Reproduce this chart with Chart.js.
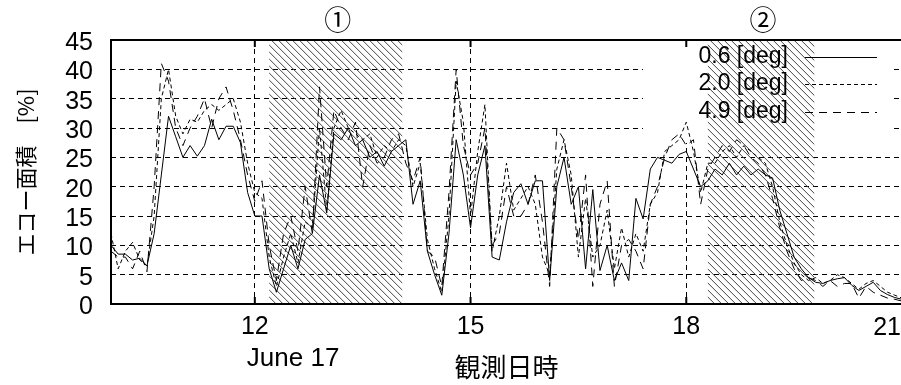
<!DOCTYPE html>
<html>
<head>
<meta charset="utf-8">
<script src="https://cdn.jsdelivr.net/npm/chart.js@4.4.0/dist/chart.umd.min.js"></script>
<style>
  html, body { margin: 0; padding: 0; background: #fff; overflow: hidden; }
  #wrap { width: 901px; height: 385px; overflow: hidden; }
</style>
</head>
<body>
<div id="wrap"><canvas id="chart" width="910" height="385"></canvas></div>
<script>
// 観測時刻 [h]（6分間隔）
const times = [
  10.0, 10.1, 10.2, 10.3, 10.4, 10.5, 10.6, 10.7, 10.8, 10.9,
  11.0, 11.1, 11.2, 11.3, 11.4, 11.5, 11.6, 11.7, 11.8, 11.9,
  12.0, 12.1, 12.2, 12.3, 12.4, 12.5, 12.6, 12.7, 12.8, 12.9,
  13.0, 13.1, 13.2, 13.3, 13.4, 13.5, 13.6, 13.7, 13.8, 13.9,
  14.0, 14.1, 14.2, 14.3, 14.4, 14.5, 14.6, 14.7, 14.8, 14.9,
  15.0, 15.1, 15.2, 15.3, 15.4, 15.5, 15.6, 15.7, 15.8, 15.9,
  16.0, 16.1, 16.2, 16.3, 16.4, 16.5, 16.6, 16.7, 16.8, 16.9,
  17.0, 17.1, 17.2, 17.3, 17.4, 17.5, 17.6, 17.7, 17.8, 17.9,
  18.0, 18.1, 18.2, 18.3, 18.4, 18.5, 18.6, 18.7, 18.8, 18.9,
  19.0, 19.1, 19.2, 19.3, 19.4, 19.5, 19.6, 19.7, 19.8, 19.9,
  20.0, 20.1, 20.2, 20.3, 20.4, 20.5, 20.6, 20.7, 20.8, 20.9,
  21.0
];

// エコー面積 [%] 仰角 0.6 deg
const echo06 = [
  10, 8.5, 8.5, 7.5, 7.8, 6.5, 12, 22, 32, 28.5,
  25, 27, 25.2, 27, 31.5, 28, 30.3, 30.3, 27.5, 19,
  15, 15, 6, 2, 6, 10, 6, 11, 12, 22,
  15.5, 29, 28, 30, 27, 28, 25, 26, 23.5, 26,
  27, 28, 17, 21, 9, 5, 1.5, 12, 28, 22,
  13, 22, 27, 8, 7.5, 14, 19, 20.5, 17, 21,
  21, 4, 20, 25, 17, 20, 6, 19.5, 5.7, 10,
  4, 7, 4, 18, 14.5, 23, 25, 24.5, 24, 25.5,
  26, 23, 20, 21, 23, 22, 24, 22, 23.5, 22,
  23, 22, 21.5, 16, 12, 8, 6, 4.5, 3.7, 3.5,
  4, 4.3, 4.5, 3.2, 2.3, 3, 3.7, 2.3, 1.6, 1.1,
  0.8
];

// 仰角 2.0 deg
const echo20 = [
  12, 6, 9, 10.5, 7.5, 6.5, 15, 35, 40, 32,
  29, 31.5, 31, 33, 34, 33, 34, 35, 31, 24,
  19, 18, 8, 3, 8, 12, 7, 14, 13, 30,
  16, 30, 33, 30, 29, 28, 29, 25, 27, 26,
  28, 27, 20, 24, 11, 6, 2, 15, 38, 31,
  15, 26, 34, 9, 15, 24, 16, 18, 20, 17,
  8, 5, 23, 28, 22, 8, 18, 8, 10, 16,
  6, 13, 8, 12, 9, 17, 19, 26, 27, 28,
  31, 26, 19, 24, 24, 26, 27, 25, 27, 26,
  25, 24, 20, 14, 10, 7, 5, 4, 4.5, 3.5,
  4, 5, 4.5, 3.5, 2.5, 3.5, 4, 3, 2, 1.5,
  1
];

// 仰角 4.9 deg
const echo49 = [
  9, 8, 8, 6, 9, 5.5, 20, 41, 38, 30,
  27, 30, 32, 35, 30, 35, 37, 33, 28, 22,
  17.5, 21, 10, 4, 12, 15, 9, 20, 12, 37,
  20, 33, 30, 28, 31, 20, 27, 24, 25, 28,
  29, 24, 21, 25, 9, 8, 3, 19, 40, 27,
  22, 24, 30, 10, 12, 20, 15, 15, 17, 22,
  14, 3, 30, 28, 20, 11, 22, 3, 17, 21,
  3, 10, 11, 9, 6, 17, 20, 25, 28, 29,
  27, 28, 17, 23, 25, 27, 26, 28, 27, 25,
  24, 22, 18, 13, 9, 6, 4, 4.5, 4, 3,
  4, 3, 3.5, 3.5, 1, 3, 2, 1.5, 1, 0.8,
  0.5
];

const seriesLabels = ['0.6 [deg]', '2.0 [deg]', '4.9 [deg]'];
const seriesDash = [[], [4, 3], [8, 6]];

// 網掛け期間 ① ②
const periodNames = ['①', '②'];
const periodStart = [12.2, 18.3];
const periodEnd = [14.05, 19.78];

const xTicks = [12, 15, 18, 21];
const yTicks = [0, 5, 10, 15, 20, 25, 30, 35, 40, 45];

const tickFont = { family: 'Liberation Sans', size: 25 };

function toPoints(vals) {
  return times.map((t, i) => ({ x: t, y: vals[i] }));
}

// 凡例ボックス（グリッドを隠す範囲）
const keyBox = { left: 643, top: 40, right: 893, bottom: 142 };

const decorPlugin = {
  id: 'decor',
  beforeDatasetsDraw(chart) {
    const { ctx, chartArea: a, scales: { x } } = chart;
    ctx.save();
    // 凡例の下地
    ctx.fillStyle = '#fff';
    ctx.fillRect(keyBox.left, keyBox.top + 1, keyBox.right - keyBox.left, keyBox.bottom - keyBox.top);
    // 網掛け
    ctx.strokeStyle = '#444';
    ctx.lineWidth = 1;
    periodStart.forEach((s, i) => {
      const x0 = x.getPixelForValue(s);
      const x1 = x.getPixelForValue(periodEnd[i]);
      ctx.save();
      ctx.beginPath();
      ctx.rect(x0, a.top, x1 - x0, a.bottom - a.top);
      ctx.clip();
      const h = a.bottom - a.top;
      ctx.beginPath();
      for (let px = x0 - h; px < x1; px += 7) {
        ctx.moveTo(px, a.top);
        ctx.lineTo(px + h, a.bottom);
      }
      ctx.stroke();
      ctx.restore();
    });
    ctx.restore();
  },
  afterDraw(chart) {
    const { ctx, chartArea: a, scales: { x } } = chart;
    ctx.save();
    // 枠
    ctx.strokeStyle = '#000';
    ctx.lineWidth = 2;
    ctx.setLineDash([]);
    ctx.beginPath();
    ctx.moveTo(a.right, a.top);
    ctx.lineTo(a.left, a.top);
    ctx.lineTo(a.left, a.bottom);
    ctx.lineTo(a.right, a.bottom);
    ctx.stroke();
    // 目盛り（上下）
    xTicks.forEach(v => {
      const px = x.getPixelForValue(v);
      ctx.beginPath();
      ctx.moveTo(px, a.top);
      ctx.lineTo(px, a.top + 7);
      ctx.moveTo(px, a.bottom);
      ctx.lineTo(px, a.bottom - 7);
      ctx.stroke();
    });
    // 期間番号
    ctx.fillStyle = '#000';
    ctx.font = '27px "Noto Sans CJK JP"';
    ctx.textAlign = 'center';
    ctx.textBaseline = 'middle';
    periodNames.forEach((n, i) => {
      const cx = x.getPixelForValue((periodStart[i] + periodEnd[i]) / 2);
      ctx.fillText(n, cx + 2, 20);
    });
    // 21 のラベル（右端で切れるため）
    ctx.font = '25px "Liberation Sans"';
    ctx.textAlign = 'right';
    ctx.textBaseline = 'alphabetic';
    ctx.fillText('21', 901, 335);
    // 日付
    ctx.font = '26px "Liberation Sans"';
    ctx.textAlign = 'left';
    ctx.fillText('June 17', x.getPixelForValue(12) - 8, 366);
    // 凡例
    ctx.font = '23px "Liberation Sans"';
    ctx.textAlign = 'right';
    ctx.textBaseline = 'middle';
    ctx.lineWidth = 1;
    const rows = [57, 84, 112];
    seriesLabels.forEach((lab, i) => {
      ctx.fillText(lab, 788, rows[i]);
      ctx.setLineDash(seriesDash[i]);
      ctx.beginPath();
      ctx.moveTo(805, rows[i] + 0.5);
      ctx.lineTo(877, rows[i] + 0.5);
      ctx.stroke();
    });
    ctx.restore();
  }
};

const ctx = document.getElementById('chart').getContext('2d');
new Chart(ctx, {
  type: 'line',
  data: {
    datasets: [echo06, echo20, echo49].map((vals, i) => ({
      label: seriesLabels[i],
      data: toPoints(vals),
      borderColor: '#000',
      borderWidth: 1,
      borderDash: seriesDash[i],
      pointRadius: 0,
      tension: 0,
      fill: false
    }))
  },
  options: {
    responsive: false,
    animation: false,
    layout: { padding: { top: 40, right: 2, left: 0, bottom: 0 } },
    plugins: { legend: { display: false }, tooltip: { enabled: false } },
    scales: {
      x: {
        type: 'linear',
        min: 10,
        max: 21,
        afterBuildTicks: s => { s.ticks = xTicks.map(v => ({ value: v })); },
        afterFit: s => { s.height = 81; },
        ticks: {
          font: tickFont,
          color: '#000',
          padding: 8,
          maxRotation: 0,
          autoSkip: false,
          callback: v => (v === 21 ? '' : String(v))
        },
        grid: {
          drawTicks: false,
          lineWidth: 1,
          color: c => (c.tick && (c.tick.value === 21) ? 'rgba(0,0,0,0)' : '#000')
        },
        border: { display: false, dash: [5, 4] },
        title: {
          display: true,
          text: '観測日時',
          font: { family: 'Noto Sans CJK JP', size: 26 },
          color: '#000',
          padding: { top: 0, bottom: 2 }
        }
      },
      y: {
        min: 0,
        max: 45,
        afterBuildTicks: s => { s.ticks = yTicks.map(v => ({ value: v })); },
        afterFit: s => { s.width = 111; },
        ticks: {
          font: tickFont,
          color: '#000',
          padding: 18,
          labelOffset: 3,
          autoSkip: false
        },
        grid: {
          drawTicks: false,
          lineWidth: 1,
          color: c => (c.tick && (c.tick.value === 0 || c.tick.value === 45) ? 'rgba(0,0,0,0)' : '#000')
        },
        border: { display: false, dash: [5, 4] },
        title: {
          display: true,
          text: 'エコー面積　[%]',
          font: { family: 'Noto Sans CJK JP', size: 22 },
          color: '#000',
          padding: { top: 12, bottom: 0 }
        }
      }
    }
  },
  plugins: [decorPlugin]
});
</script>
</body>
</html>
